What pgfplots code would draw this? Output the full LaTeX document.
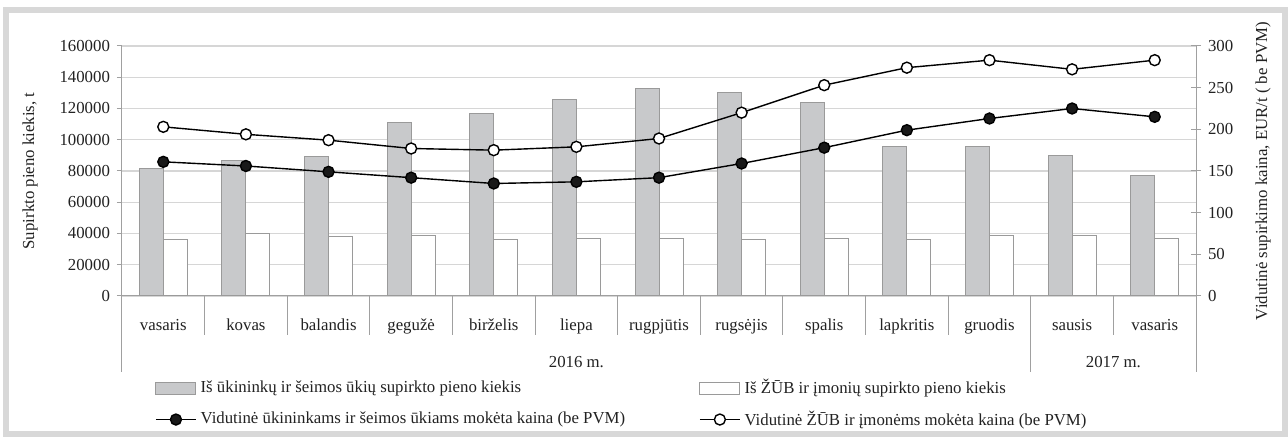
\documentclass[border=0pt]{standalone}
\usepackage{fontspec}
\setmainfont{Liberation Serif}
\usepackage{pgfplots}
\usepackage{pgfplotstable}
\pgfplotsset{compat=1.18}

\definecolor{barfill}{HTML}{C8C9CB}
\definecolor{baredge}{HTML}{9A9A9A}
\definecolor{axisgray}{HTML}{A0A0A0}
\definecolor{gridgray}{HTML}{D6D6D6}
\definecolor{framegray}{HTML}{D8D8D8}
\definecolor{txt}{HTML}{222222}

\pgfplotsset{
  lineleg/.style={legend image code/.code={%
    \draw[##1, mark repeat=2, mark phase=2] plot coordinates {(0pt,0pt) (10pt,0pt) (20pt,0pt)};}},
  barleg/.style={legend image code/.code={%
    \draw[##1] (0pt,-3pt) rectangle (20pt,3pt);}},
}

% x: month index, farm/coop: t, pfarm/pcoop: EUR/t
\pgfplotstableread{
x farm   coop  pfarm pcoop
0 81500  36000 161   203
1 87000  40000 156   194
2 89000  38000 149   187
3 111000 39000 142   177
4 116500 36000 135   175
5 126000 37000 137   179
6 132500 37000 142   189
7 130500 36000 159   220
8 124000 37000 178   253
9 95500  36000 199   274
10 95500 39000 213   283
11 90000 39000 225   272
12 77000 37000 215   283
}\milk

\newcommand{\tfont}{\fontsize{8.4}{10}\selectfont}

\begin{document}
\begin{tikzpicture}
\path[use as bounding box] (-61pt,-70.5pt) rectangle (583pt,148pt);
\fill[white] (-61pt,-70.5pt) rectangle (583pt,148pt);
\draw[framegray, line width=3pt] (-58pt,-69pt) rectangle (581.5pt,143pt);

\begin{axis}[
  width=537pt, height=125pt, scale only axis,
  at={(0,0)}, anchor=south west,
  xmin=-0.5, xmax=12.5, ymin=0, ymax=160000,
  axis y line*=left, axis x line*=bottom,
  axis line style={axisgray, line width=0.5pt},
  ytick={0,20000,...,160000},
  scaled y ticks=false,
  yticklabel style={/pgf/number format/fixed, /pgf/number format/1000 sep={}},
  /pgf/number format/assume math mode=true,
  tick align=outside, major tick length=2.5pt,
  ytick style={axisgray, line width=0.5pt},
  xtick={0,...,12},
  xtick style={draw=none},
  xticklabels={vasaris,kovas,balandis,gegužė,birželis,liepa,rugpjūtis,rugsėjis,spalis,lapkritis,gruodis,sausis,vasaris},
  xticklabel style={anchor=center, yshift=-12pt, text height=1.5ex, text depth=0.25ex},
  ticklabel style={font=\tfont, text=txt},
  ymajorgrids, grid style={gridgray, line width=0.6pt},
  ylabel={Supirkto pieno kiekis, t},
  ylabel style={at={(rel axis cs:-0.0857,0.5)}, anchor=center, font=\tfont, text=txt},
  clip=false,
]
\addplot[ybar, bar width=12pt, bar shift=-6pt, fill=barfill, draw=baredge, line width=0.5pt] table[x=x, y=farm] {\milk};
\addplot[ybar, bar width=12pt, bar shift=6pt, fill=white, draw=baredge, line width=0.5pt] table[x=x, y=coop] {\milk};

% category box below the axis
\pgfplotsinvokeforeach{0.5,1.5,2.5,3.5,4.5,5.5,6.5,7.5,8.5,9.5,11.5}{
  \draw[axisgray, line width=0.5pt] (axis cs:#1,0) -- (axis cs:#1,-24960);
}
\pgfplotsinvokeforeach{-0.5,10.5,12.5}{
  \draw[axisgray, line width=0.5pt] (axis cs:#1,0) -- (axis cs:#1,-48640);
}
\node[font=\tfont, text=txt] at (axis cs:5,-42000) {2016 m.};
\node[font=\tfont, text=txt] at (axis cs:11.5,-42000) {2017 m.};
\end{axis}

\begin{axis}[
  width=537pt, height=125pt, scale only axis,
  at={(0,0)}, anchor=south west,
  xmin=-0.5, xmax=12.5, ymin=0, ymax=300,
  axis y line*=right, axis x line=none,
  axis line style={axisgray, line width=0.5pt},
  ytick={0,50,...,300},
  /pgf/number format/assume math mode=true,
  tick align=center, major tick length=5pt,
  ytick style={axisgray, line width=0.5pt},
  ticklabel style={font=\tfont, text=txt},
  ylabel={Vidutinė supirkimo kaina, EUR/t ( be PVM)},
  ylabel style={at={(rel axis cs:1.0625,0.5)}, anchor=center, font=\tfont, text=txt},
  clip=false,
  legend columns=2,
  legend cell align=left,
  legend style={at={(rel axis cs:0.025,-0.30)}, anchor=north west, draw=none, fill=none,
    font=\tfont, text=txt, row sep=3pt,
    /tikz/every even column/.append style={column sep=35pt}},
]
\addlegendimage{barleg, fill=barfill, draw=baredge, line width=0.5pt}
\addlegendimage{barleg, fill=white, draw=baredge, line width=0.5pt}
\addplot[black, line width=0.7pt, mark=*, mark size=2.75pt, mark options={fill=black!90, draw=black}, lineleg]
  table[x=x, y=pfarm] {\milk};
\addplot[black, line width=0.7pt, mark=*, mark size=2.75pt, mark options={fill=white, draw=black}, lineleg]
  table[x=x, y=pcoop] {\milk};
\legend{Iš ūkininkų ir šeimos ūkių supirkto pieno kiekis,
  Iš ŽŪB ir įmonių supirkto pieno kiekis,
  Vidutinė ūkininkams ir šeimos ūkiams mokėta kaina (be PVM),
  Vidutinė ŽŪB ir įmonėms mokėta kaina (be PVM)}
\end{axis}
\end{tikzpicture}
\end{document}
